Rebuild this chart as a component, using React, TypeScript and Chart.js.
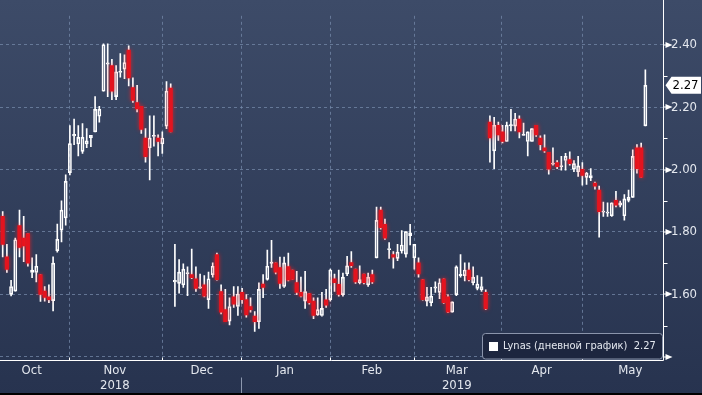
import React, { useEffect, useRef } from 'react';
import { Chart, registerables } from 'chart.js';

Chart.register(...registerables);

// ---- data (one candle per trading day, Oct 2018 – May 2019) ----
const opens = [
  1.85, 1.72, 1.60, 1.61, 1.82, 1.78, 1.795, 1.67, 1.67, 1.663,
  1.61, 1.592, 1.58, 1.74, 1.806, 1.845, 1.99, 2.108, 2.082, 2.058,
  2.082, 2.101, 2.121, 2.171, 2.251, 2.338, 2.333, 2.234, 2.311, 2.322,
  2.383, 2.263, 2.215, 2.203, 2.101, 2.07, 2.106, 2.101, 2.082, 2.139,
  2.261,
  1.64, 1.635, 1.63, 1.666, 1.663, 1.65, 1.62, 1.63, 1.583, 1.663,
  1.727, 1.609, 1.551, 1.514, 1.592, 1.561, 1.606, 1.583, 1.561, 1.53,
  1.512, 1.633, 1.648, 1.699, 1.701, 1.686, 1.625, 1.689, 1.678, 1.638,
  1.606, 1.578, 1.602, 1.578, 1.534, 1.532, 1.582, 1.583, 1.65, 1.632,
  1.599, 1.665, 1.702, 1.681, 1.637, 1.665, 1.63, 1.663, 1.717, 1.87,
  1.824, 1.743, 1.727, 1.715, 1.739, 1.729, 1.788, 1.717, 1.701, 1.647,
  1.578, 1.573, 1.62, 1.606, 1.65, 1.592, 1.543, 1.599, 1.66, 1.66,
  1.678, 1.637, 1.619, 1.614, 1.606,
  2.152, 2.06, 2.142, 2.121, 2.09, 2.14, 2.139, 2.162, 2.109, 2.09,
  2.09, 2.142, 2.101, 2.07, 2.055, 2.017, 2.022, 2.009, 2.029, 2.032,
  2.001, 1.993, 2.001, 1.975, 1.973, 1.957, 1.934, 1.863, 1.86, 1.852,
  1.901, 1.886, 1.852, 1.901, 1.911, 2.07, 2.07, 2.14,
];
const highs = [
  1.865, 1.76, 1.645, 1.78, 1.87, 1.85, 1.795, 1.717, 1.727, 1.663,
  1.625, 1.63, 1.72, 1.825, 1.90, 1.983, 2.141, 2.162, 2.141, 2.147,
  2.131, 2.11, 2.234, 2.203, 2.403, 2.403, 2.353, 2.333, 2.372, 2.368,
  2.397, 2.294, 2.27, 2.203, 2.131, 2.172, 2.172, 2.111, 2.121, 2.282,
  2.275,
  1.76, 1.711, 1.698, 1.688, 1.745, 1.688, 1.665, 1.66, 1.671, 1.701,
  1.732, 1.63, 1.616, 1.589, 1.625, 1.625, 1.619, 1.599, 1.589, 1.545,
  1.637, 1.663, 1.742, 1.773, 1.701, 1.719, 1.719, 1.732, 1.678, 1.674,
  1.655, 1.674, 1.602, 1.589, 1.589, 1.606, 1.616, 1.681, 1.665, 1.678,
  1.668, 1.722, 1.737, 1.681, 1.691, 1.665, 1.668, 1.678, 1.88, 1.88,
  1.841, 1.766, 1.737, 1.76, 1.804, 1.801, 1.824, 1.76, 1.717, 1.647,
  1.622, 1.622, 1.64, 1.65, 1.65, 1.599, 1.576, 1.691, 1.727, 1.701,
  1.701, 1.688, 1.66, 1.655, 1.614,
  2.172, 2.167, 2.152, 2.142, 2.152, 2.193, 2.18, 2.172, 2.149, 2.121,
  2.131, 2.142, 2.108, 2.111, 2.055, 2.07, 2.029, 2.042, 2.052, 2.057,
  2.029, 2.042, 2.022, 1.991, 2.003, 1.96, 1.947, 1.896, 1.893, 1.893,
  1.93, 1.899, 1.92, 1.934, 2.063, 2.08, 2.085, 2.32,
];
const lows = [
  1.72, 1.67, 1.595, 1.61, 1.72, 1.705, 1.69, 1.653, 1.64, 1.577,
  1.578, 1.573, 1.547, 1.735, 1.768, 1.822, 1.983, 2.08, 2.044, 2.052,
  2.07, 2.073, 2.121, 2.152, 2.251, 2.234, 2.224, 2.224, 2.296, 2.291,
  2.268, 2.215, 2.185, 2.116, 2.024, 1.967, 2.075, 2.044, 2.052, 2.131,
  2.121,
  1.561, 1.604, 1.622, 1.596, 1.65, 1.609, 1.619, 1.592, 1.555, 1.655,
  1.645, 1.537, 1.512, 1.502, 1.558, 1.532, 1.571, 1.527, 1.543, 1.481,
  1.491, 1.589, 1.645, 1.686, 1.665, 1.619, 1.622, 1.643, 1.648, 1.599,
  1.592, 1.555, 1.568, 1.522, 1.532, 1.53, 1.558, 1.578, 1.609, 1.594,
  1.594, 1.66, 1.686, 1.635, 1.633, 1.633, 1.625, 1.635, 1.717, 1.809,
  1.776, 1.715, 1.684, 1.708, 1.732, 1.719, 1.758, 1.681, 1.655, 1.581,
  1.563, 1.563, 1.606, 1.586, 1.571, 1.541, 1.543, 1.596, 1.655, 1.643,
  1.643, 1.63, 1.614, 1.609, 1.551,
  2.024, 2.003, 2.093, 2.085, 2.09, 2.124, 2.124, 2.101, 2.109, 2.044,
  2.09, 2.106, 2.063, 2.055, 1.985, 2.014, 2.003, 1.998, 1.998, 2.014,
  1.993, 1.978, 1.95, 1.952, 1.964, 1.937, 1.783, 1.85, 1.85, 1.85,
  1.88, 1.88, 1.838, 1.896, 1.911, 1.988, 1.975, 2.14,
];
const closes = [
  1.76, 1.68, 1.625, 1.775, 1.75, 1.755, 1.70, 1.678, 1.69, 1.60,
  1.59, 1.583, 1.70, 1.776, 1.87, 1.962, 2.083, 2.113, 2.103, 2.103,
  2.092, 2.11, 2.193, 2.193, 2.40, 2.342, 2.251, 2.313, 2.315, 2.343,
  2.294, 2.222, 2.194, 2.129, 2.041, 2.101, 2.11, 2.09, 2.101, 2.251,
  2.121,
  1.645, 1.671, 1.681, 1.67, 1.653, 1.619, 1.624, 1.594, 1.65, 1.69,
  1.647, 1.543, 1.512, 1.561, 1.568, 1.601, 1.583, 1.534, 1.551, 1.512,
  1.616, 1.622, 1.69, 1.703, 1.671, 1.635, 1.701, 1.645, 1.648, 1.606,
  1.594, 1.609, 1.573, 1.532, 1.551, 1.555, 1.565, 1.678, 1.637, 1.60,
  1.655, 1.691, 1.692, 1.64, 1.647, 1.637, 1.655, 1.64, 1.837, 1.814,
  1.78, 1.747, 1.719, 1.735, 1.758, 1.801, 1.797, 1.76, 1.665, 1.583,
  1.592, 1.594, 1.624, 1.637, 1.573, 1.543, 1.576, 1.688, 1.664, 1.678,
  1.647, 1.655, 1.633, 1.625, 1.553,
  2.101, 2.142, 2.111, 2.09, 2.142, 2.144, 2.162, 2.121, 2.113, 2.121,
  2.131, 2.111, 2.08, 2.06, 2.001, 2.021, 2.009, 2.013, 2.042, 2.019,
  2.019, 2.012, 1.981, 1.988, 1.981, 1.947, 1.865, 1.867, 1.864, 1.893,
  1.886, 1.893, 1.906, 1.911, 2.042, 2.003, 1.975, 2.27,
];

// month boundaries (in trading-day index units) and label positions
const monthBoundaries = [15.8, 37.9, 56.75, 77.9, 98.0, 118.6, 137.9];
const monthLabels = ['Oct', 'Nov', 'Dec', 'Jan', 'Feb', 'Mar', 'Apr', 'May'];
const monthLabelPos = [6.9, 26.7, 47.4, 67.2, 87.9, 108.1, 128.3, 149.4];
const yearLabels = ['', '2018', '', '', '', '2019', '', ''];
const yearSeparator = 56.75;

const yTickValues = [1.4, 1.5, 1.6, 1.7, 1.8, 1.9, 2.0, 2.1, 2.2, 2.3, 2.4];
const yTickLabels = ['', '', '1.60', '', '1.80', '', '2.00', '', '2.20', '', '2.40'];

const seriesName = 'Lynas (дневной график)';

// ---- styling ----
const FONT = "'DejaVu Sans Condensed', 'DejaVu Sans', sans-serif";
const TEXT = '#e3e7ee';
const GRID = 'rgba(118,138,170,0.75)';
const RED = '#e3141f';
const WHITE = '#ffffff';

const idx = opens.map((_, i) => i);
const upper = idx.map((i) => ({ x: i, y: [Math.max(opens[i], closes[i]), highs[i]] }));
const lower = idx.map((i) => ({ x: i, y: [lows[i], Math.min(opens[i], closes[i])] }));
const upBodies = idx.filter((i) => closes[i] >= opens[i]).map((i) => ({ x: i, y: [opens[i], closes[i]] }));
const downBodies = idx.filter((i) => closes[i] < opens[i]).map((i) => ({ x: i, y: [closes[i], opens[i]] }));

const bgPlugin = {
  id: 'bg',
  beforeDraw(chart: any) {
    const { ctx, width, height } = chart;
    const g = ctx.createLinearGradient(0, 0, 0, height);
    g.addColorStop(0, '#3d4b68');
    g.addColorStop(1, '#27334f');
    ctx.save();
    ctx.fillStyle = g;
    ctx.fillRect(0, 0, width, height);
    ctx.restore();
  },
};

const vGridPlugin = {
  id: 'vgrid',
  beforeDatasetsDraw(chart: any) {
    const { ctx, chartArea } = chart;
    const xs = chart.scales.x;
    ctx.save();
    ctx.strokeStyle = GRID;
    ctx.lineWidth = 1;
    ctx.setLineDash([3, 3]);
    monthBoundaries.forEach((b) => {
      const x = Math.round(xs.getPixelForValue(b)) + 0.5;
      ctx.beginPath();
      ctx.moveTo(x, chartArea.top);
      ctx.lineTo(x, chartArea.bottom);
      ctx.stroke();
    });
    ctx.restore();
  },
};

const glowPlugin = {
  id: 'glow',
  beforeDatasetDraw(chart: any, args: any) {
    if (args.index === 0) {
      chart.ctx.save();
      chart.ctx.shadowColor = 'rgba(255,30,30,0.75)';
      chart.ctx.shadowBlur = 4;
    }
  },
  afterDatasetDraw(chart: any, args: any) {
    if (args.index === 0) chart.ctx.restore();
  },
};

const decorPlugin = {
  id: 'decor',
  afterDraw(chart: any) {
    const { ctx, chartArea, width, height } = chart;
    const xs = chart.scales.x;
    const ys = chart.scales.y;
    const right = Math.round(chartArea.right) + 0.5;
    const bottom = Math.round(chartArea.bottom) + 0.5;
    ctx.save();
    ctx.setLineDash([]);
    ctx.strokeStyle = WHITE;
    ctx.lineWidth = 1;
    // axis lines
    ctx.beginPath();
    ctx.moveTo(right, 0);
    ctx.lineTo(right, bottom);
    ctx.moveTo(0, bottom);
    ctx.lineTo(right, bottom);
    ctx.stroke();
    // x ticks
    monthBoundaries.forEach((b) => {
      const x = Math.round(xs.getPixelForValue(b)) + 0.5;
      ctx.beginPath();
      ctx.moveTo(x, bottom - 3);
      ctx.lineTo(x, bottom);
      ctx.stroke();
    });
    // year separator
    const sx = Math.round(xs.getPixelForValue(yearSeparator)) + 0.5;
    ctx.strokeStyle = 'rgba(175,185,205,0.75)';
    ctx.beginPath();
    ctx.moveTo(sx, bottom + 17);
    ctx.lineTo(sx, height - 2);
    ctx.stroke();
    // y ticks
    ctx.strokeStyle = WHITE;
    ctx.fillStyle = WHITE;
    yTickValues.forEach((v, i) => {
      const y = Math.round(ys.getPixelForValue(v)) + 0.5;
      if (i % 2 === 0) {
        ctx.beginPath();
        ctx.moveTo(right, y - 0.5);
        ctx.lineTo(right + 3, y - 0.5);
        ctx.stroke();
        ctx.beginPath();
        ctx.moveTo(right + 2, y - 3.5);
        ctx.lineTo(right + 9, y - 0.5);
        ctx.lineTo(right + 2, y + 2.5);
        ctx.closePath();
        ctx.fill();
      } else {
        ctx.beginPath();
        ctx.moveTo(right, y);
        ctx.lineTo(right + 4, y);
        ctx.stroke();
      }
    });
    // last price tag
    const last = closes[closes.length - 1];
    const py = ys.getPixelForValue(last);
    ctx.fillStyle = WHITE;
    ctx.beginPath();
    ctx.moveTo(right + 2, py);
    ctx.lineTo(right + 8, py - 8.5);
    ctx.lineTo(width - 1, py - 8.5);
    ctx.lineTo(width - 1, py + 8.5);
    ctx.lineTo(right + 8, py + 8.5);
    ctx.closePath();
    ctx.fill();
    ctx.fillStyle = '#000000';
    ctx.font = `13px ${FONT}`;
    ctx.textBaseline = 'middle';
    ctx.textAlign = 'left';
    ctx.fillText(last.toFixed(2), right + 9, py + 0.5);
    // legend box
    const lx = 482.5, ly = 333.5, lw = 180, lh = 25.5, r = 3;
    ctx.beginPath();
    ctx.moveTo(lx + r, ly);
    ctx.lineTo(lx + lw - r, ly);
    ctx.quadraticCurveTo(lx + lw, ly, lx + lw, ly + r);
    ctx.lineTo(lx + lw, ly + lh - r);
    ctx.quadraticCurveTo(lx + lw, ly + lh, lx + lw - r, ly + lh);
    ctx.lineTo(lx + r, ly + lh);
    ctx.quadraticCurveTo(lx, ly + lh, lx, ly + lh - r);
    ctx.lineTo(lx, ly + r);
    ctx.quadraticCurveTo(lx, ly, lx + r, ly);
    ctx.closePath();
    ctx.fillStyle = '#1d263f';
    ctx.fill();
    ctx.strokeStyle = 'rgba(150,160,182,0.9)';
    ctx.stroke();
    ctx.fillStyle = WHITE;
    ctx.fillRect(489, 342, 9, 9);
    ctx.fillStyle = '#e4e8ef';
    ctx.font = `11px ${FONT}`;
    ctx.fillText(`${seriesName}  ${last.toFixed(2)}`, 503, 346.5);
    // bottom frame
    ctx.fillStyle = '#000000';
    ctx.fillRect(0, height - 2, width, 2);
    ctx.restore();
  },
};

export default function App() {
  const ref = useRef<HTMLCanvasElement>(null);
  useEffect(() => {
    document.body.style.margin = '0';
    const canvas = ref.current;
    if (!canvas) return;
    const chart = new Chart(canvas, {
      type: 'bar',
      data: {
        datasets: [
          {
            data: downBodies as any,
            backgroundColor: RED,
            borderWidth: 0,
            barThickness: 3.5,
            minBarLength: 1,
            grouped: false,
          } as any,
          {
            data: upBodies as any,
            backgroundColor: 'rgba(0,0,0,0)',
            borderColor: WHITE,
            borderWidth: 1,
            borderSkipped: false,
            barThickness: 3.2,
            minBarLength: 1,
            grouped: false,
          } as any,
          {
            data: upper as any,
            backgroundColor: WHITE,
            borderWidth: 0,
            barThickness: 1,
            grouped: false,
          } as any,
          {
            data: lower as any,
            backgroundColor: WHITE,
            borderWidth: 0,
            barThickness: 1,
            grouped: false,
          } as any,
        ],
      },
      options: {
        responsive: false,
        animation: false,
        devicePixelRatio: 1,
        events: [],
        layout: { padding: 0 },
        plugins: { legend: { display: false }, tooltip: { enabled: false } },
        scales: {
          x: {
            type: 'linear',
            min: -0.64,
            max: 157.2,
            offset: false,
            bounds: 'data',
            grid: { display: false, drawTicks: false },
            border: { display: false },
            afterBuildTicks: (s: any) => {
              s.ticks = monthLabelPos.map((v) => ({ value: v }));
            },
            afterFit: (s: any) => {
              s.height = 35;
            },
            ticks: {
              autoSkip: false,
              maxRotation: 0,
              minRotation: 0,
              padding: 3,
              color: TEXT,
              font: { family: FONT, size: 13, lineHeight: 1.15 },
              callback: (_v: any, i: number) =>
                yearLabels[i] ? [monthLabels[i], yearLabels[i]] : monthLabels[i],
            },
          },
          y: {
            type: 'linear',
            position: 'right',
            min: 1.3894,
            max: 2.4929,
            bounds: 'data',
            grid: {
              drawTicks: false,
              lineWidth: 1,
              color: (c: any) => (c.index % 2 === 0 ? GRID : 'rgba(0,0,0,0)'),
            },
            border: { display: false, dash: [3, 3] },
            afterBuildTicks: (s: any) => {
              s.ticks = yTickValues.map((v) => ({ value: v }));
            },
            afterFit: (s: any) => {
              s.width = 39;
            },
            ticks: {
              autoSkip: false,
              padding: 8,
              color: TEXT,
              font: { family: FONT, size: 13 },
              callback: (_v: any, i: number) => yTickLabels[i],
            },
          },
        },
      } as any,
      plugins: [bgPlugin, vGridPlugin, glowPlugin, decorPlugin],
    });
    return () => chart.destroy();
  }, []);
  return (
    <canvas
      ref={ref}
      width={702}
      height={395}
      style={{ display: 'block', width: '702px', height: '395px' }}
    />
  );
}
